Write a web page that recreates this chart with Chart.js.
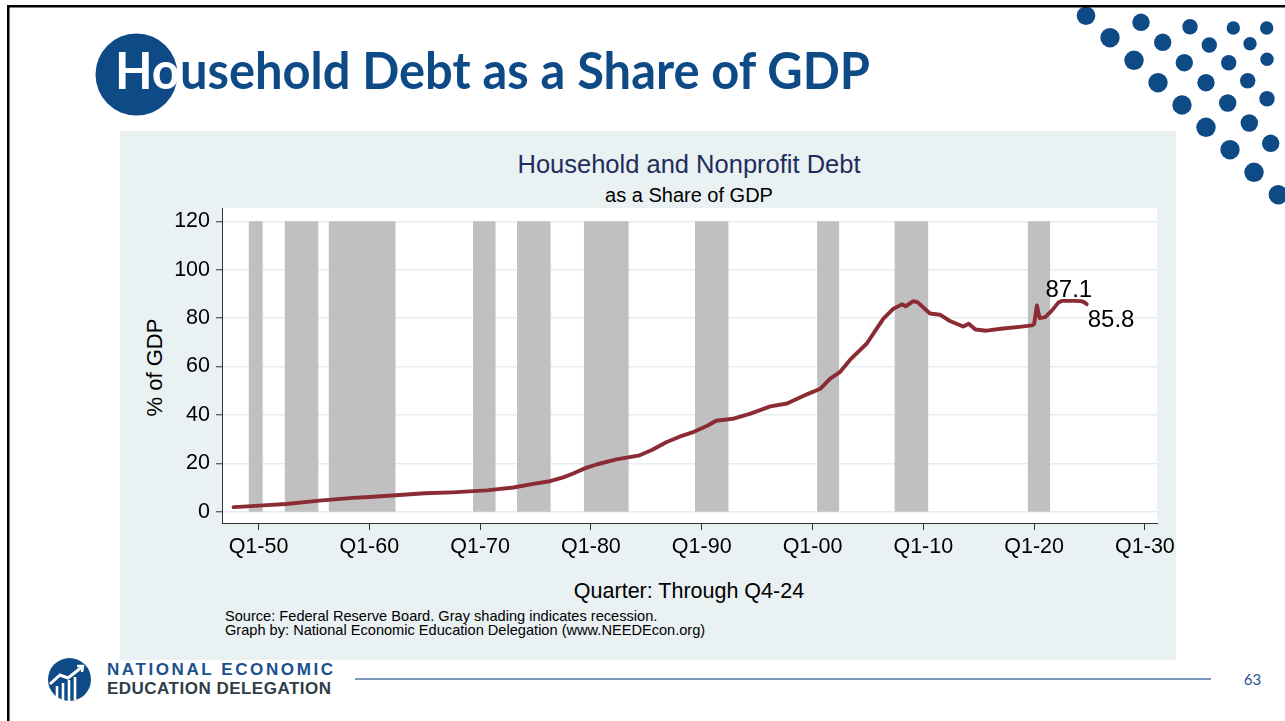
<!DOCTYPE html>
<html>
<head>
<meta charset="utf-8">
<title>Household Debt as a Share of GDP</title>
<script src="https://cdn.jsdelivr.net/npm/chart.js@4.4.1/dist/chart.umd.min.js"></script>
<style>
  html, body { margin:0; padding:0; background:#ffffff; }
  body { width:1285px; height:721px; position:relative; overflow:hidden; }
  #deco { position:absolute; left:0; top:0; }
  #chartWrap { position:absolute; left:120px; top:131px; width:1056px; height:529px; }
  #chart { display:block; }
</style>
</head>
<body>
<svg id="deco" width="1285" height="721" xmlns="http://www.w3.org/2000/svg">
  <rect x="120" y="131" width="1056" height="529" fill="#e9f1f3"/>
  <g id="dots" fill="#0e4a86"></g>
  <rect x="7" y="5" width="1278" height="2.5" fill="#000"/>
  <rect x="7" y="5" width="2.5" height="716" fill="#000"/>
  <circle cx="136.5" cy="74.5" r="41" fill="#0e4a86"/>
  <text x="115" y="89" font-family="Lato" font-weight="700" font-size="51" fill="#0e4a86" textLength="755" lengthAdjust="spacingAndGlyphs"><tspan fill="#ffffff">Ho</tspan>usehold Debt as a Share of GDP</text>

  <text x="689" y="173" text-anchor="middle" font-family="Liberation Sans" font-size="25.5" fill="#1f2d5c">Household and Nonprofit Debt</text>
  <text x="689" y="201.5" text-anchor="middle" font-family="Liberation Sans" font-size="20" fill="#000">as a Share of GDP</text>
  <text transform="translate(161.5,367.5) rotate(-90)" text-anchor="middle" font-family="Liberation Sans" font-size="22" fill="#000">% of GDP</text>
  <text x="689" y="598" text-anchor="middle" font-family="Liberation Sans" font-size="21.5" fill="#000">Quarter: Through Q4-24</text>
  <text x="225" y="621" font-family="Liberation Sans" font-size="14.6" fill="#000">Source: Federal Reserve Board. Gray shading indicates recession.</text>
  <text x="225" y="635" font-family="Liberation Sans" font-size="14.6" fill="#000">Graph by: National Economic Education Delegation (www.NEEDEcon.org)</text>

  <!-- footer logo -->
  <circle cx="69.5" cy="679.5" r="21.5" fill="#0e4a86"/>
  <g stroke="#ffffff" stroke-width="2.6" fill="none" stroke-linecap="butt">
    <line x1="57" y1="686" x2="57" y2="698"/>
    <line x1="63" y1="683" x2="63" y2="700.5"/>
    <line x1="69" y1="680" x2="69" y2="701"/>
    <line x1="75" y1="677" x2="75" y2="700"/>
    <polyline points="50,684 60,675 68,678 82,667" stroke-width="3"/>
    <polyline points="77,666 83,666 82,672" stroke-width="2.4"/>
  </g>
  <text x="107" y="675" font-family="Liberation Sans" font-weight="700" font-size="17" fill="#1b4f8e" textLength="226" lengthAdjust="spacing">NATIONAL ECONOMIC</text>
  <text x="107" y="693.5" font-family="Liberation Sans" font-weight="700" font-size="17" fill="#2e3d48" textLength="224" lengthAdjust="spacing">EDUCATION DELEGATION</text>
  <line x1="355" y1="679" x2="1211" y2="679" stroke="#4f79a8" stroke-width="1.5"/>
  <text x="1252.5" y="684.5" text-anchor="middle" font-family="Lato" font-size="15" fill="#1f5590">63</text>
</svg>
<div id="chartWrap"><canvas id="chart" width="1056" height="529"></canvas></div>

<script>
// ---------------- data ----------------
const years = [1947.75, 1949.0, 1950.4, 1952.5, 1955.5, 1958.5, 1960.0, 1962.4, 1965.0, 1967.5,
  1970.6, 1973.0, 1974.8, 1976.3, 1977.5, 1978.4, 1979.5, 1980.5, 1982.3, 1984.4,
  1985.5, 1986.8, 1988.0, 1989.3, 1990.5, 1991.3, 1992.8, 1994.4, 1996.2, 1997.7,
  1999.5, 2000.7, 2001.6, 2002.5, 2003.4, 2004.9, 2005.7, 2006.4, 2007.3, 2008.1,
  2008.4, 2009.1, 2009.5, 2010.6, 2011.5, 2012.4, 2013.6, 2014.1, 2014.7, 2015.7,
  2017.2, 2018.7, 2019.8, 2020.0, 2020.25, 2020.5, 2021.0, 2021.6, 2022.2, 2022.5,
  2023.5, 2024.25, 2024.5, 2024.75];
const debtShare = [1.9, 2.2, 2.6, 3.2, 4.6, 5.7, 6.1, 6.8, 7.6, 8.0,
  8.8, 10.0, 11.5, 12.6, 14.2, 15.8, 18.0, 19.5, 21.6, 23.3,
  25.5, 28.7, 31.0, 33.0, 35.5, 37.6, 38.4, 40.5, 43.5, 44.7,
  48.5, 50.8, 55.0, 57.8, 62.8, 69.5, 75.0, 79.8, 83.9, 85.7,
  84.9, 87.0, 86.5, 81.9, 81.4, 78.8, 76.5, 77.7, 75.3, 74.8,
  75.7, 76.4, 77.0, 77.5, 85.2, 80.0, 80.4, 83.1, 86.5, 87.1,
  87.1, 87.0, 86.6, 85.8];
const recessionStart = [1949.10, 1952.35, 1956.32, 1969.36, 1973.33, 1979.36, 1989.39, 2000.41, 2007.39, 2019.41];
const recessionEnd   = [1950.39, 1955.42, 1962.38, 1971.41, 1976.38, 1983.42, 1992.43, 2002.42, 2010.46, 2021.46];
const recessionTop = 120;
const xTickYears  = [1950, 1960, 1970, 1980, 1990, 2000, 2010, 2020, 2030];
const xTickLabels = ['Q1-50', 'Q1-60', 'Q1-70', 'Q1-80', 'Q1-90', 'Q1-00', 'Q1-10', 'Q1-20', 'Q1-30'];
const yTickValues = [0, 20, 40, 60, 80, 100, 120];

// ---------------- decoration dots ----------------
const dotSpecs = [[1086,15.7,9.3],[1141,22.3,8.7],[1190,26.7,7.7],[1233.3,28,6.7],[1266.7,28,6.7],
  [1110,37.7,9.7],[1162.7,42.3,8.7],[1209.3,45,7.7],[1250,43.7,6.7],[1267,59.3,6.7],
  [1134,60.3,9.7],[1184.3,62.7,8.7],[1228.7,62.7,7.7],[1158,82.7,9.7],[1206,82.7,8.7],
  [1247.7,80.7,7.7],[1182,105,9.7],[1227.7,103,8.7],[1267,98.7,7.7],[1206,127.3,9.7],
  [1249.3,123,8.7],[1230,149.7,9.7],[1270.7,143.3,8.7],[1254,172.3,9.7],[1278.3,194.7,9.7]];
const dotsG = document.getElementById('dots');
dotSpecs.forEach(d => {
  const c = document.createElementNS('http://www.w3.org/2000/svg', 'circle');
  c.setAttribute('cx', d[0]); c.setAttribute('cy', d[1]); c.setAttribute('r', d[2]);
  dotsG.appendChild(c);
});

// ---------------- chart ----------------
const FONT = 'Liberation Sans';
const datasets = [];
recessionStart.forEach((s, i) => {
  datasets.push({
    data: [{x: s, y: recessionTop}, {x: recessionEnd[i], y: recessionTop}],
    fill: 'origin', backgroundColor: '#c0c0c0', borderColor: 'rgba(0,0,0,0)', borderWidth: 0,
    pointRadius: 0, order: 2
  });
});
const LINE_IDX = datasets.length;
datasets.push({
  data: years.map((y, i) => ({x: y, y: debtShare[i]})),
  borderColor: '#8b2c35', borderWidth: 3.9, pointRadius: 0, fill: false, tension: 0,
  borderJoinStyle: 'round', borderCapStyle: 'round', order: 1
});

const plotBg = {
  id: 'plotBg',
  beforeDraw(chart) {
    const a = chart.chartArea, ctx = chart.ctx;
    ctx.save(); ctx.fillStyle = '#ffffff';
    ctx.fillRect(a.left, a.top, a.right - a.left, a.bottom - a.top);
    ctx.restore();
  }
};
const valueLabels = {
  id: 'valueLabels',
  afterDatasetsDraw(chart) {
    const meta = chart.getDatasetMeta(LINE_IDX);
    const ctx = chart.ctx;
    let peak = -1;
    years.forEach((y, i) => { if (y >= 2020 && (peak < 0 || debtShare[i] > debtShare[peak])) peak = i; });
    const last = debtShare.length - 1;
    ctx.save();
    ctx.fillStyle = '#000';
    ctx.font = '24px "' + FONT + '"';
    ctx.textBaseline = 'alphabetic';
    const p = meta.data[peak];
    ctx.textAlign = 'center';
    ctx.fillText(debtShare[peak].toFixed(1), p.x + 7, p.y - 4);
    const q = meta.data[last];
    ctx.textAlign = 'left';
    ctx.fillText(debtShare[last].toFixed(1), q.x + 1, q.y + 23);
    ctx.restore();
  }
};

new Chart(document.getElementById('chart'), {
  type: 'line',
  data: { datasets },
  options: {
    responsive: false, animation: false, devicePixelRatio: 1,
    layout: { padding: { top: 77, right: 19, left: 0, bottom: 0 } },
    plugins: { legend: { display: false }, tooltip: { enabled: false }, title: { display: false } },
    scales: {
      x: {
        type: 'linear', min: 1946.705, max: 2031.09,
        afterBuildTicks: s => { s.ticks = xTickYears.map(v => ({ value: v })); },
        afterFit: s => { s.height = 137; s.paddingLeft = 0; s.paddingRight = 0; },
        ticks: { callback: (v, i) => xTickLabels[i], color: '#000', font: { family: FONT, size: 21.5 },
                 padding: 4, maxRotation: 0, autoSkip: false },
        grid: { drawOnChartArea: false, drawTicks: true, tickLength: 7, tickColor: '#333', tickWidth: 1 },
        border: { display: true, color: '#333', width: 1 }
      },
      y: {
        type: 'linear', min: -4.67, max: 125.5,
        afterBuildTicks: s => { s.ticks = yTickValues.map(v => ({ value: v })); },
        afterFit: s => { s.width = 102; s.paddingTop = 0; s.paddingBottom = 0; },
        ticks: { color: '#000', font: { family: FONT, size: 21.5 }, padding: 6 },
        grid: { color: '#e4edf1', lineWidth: 1.5, drawTicks: true, tickLength: 6, tickColor: '#333', tickWidth: 1 },
        border: { display: true, color: '#333', width: 1 }
      }
    }
  },
  plugins: [plotBg, valueLabels]
});
</script>
</body>
</html>
